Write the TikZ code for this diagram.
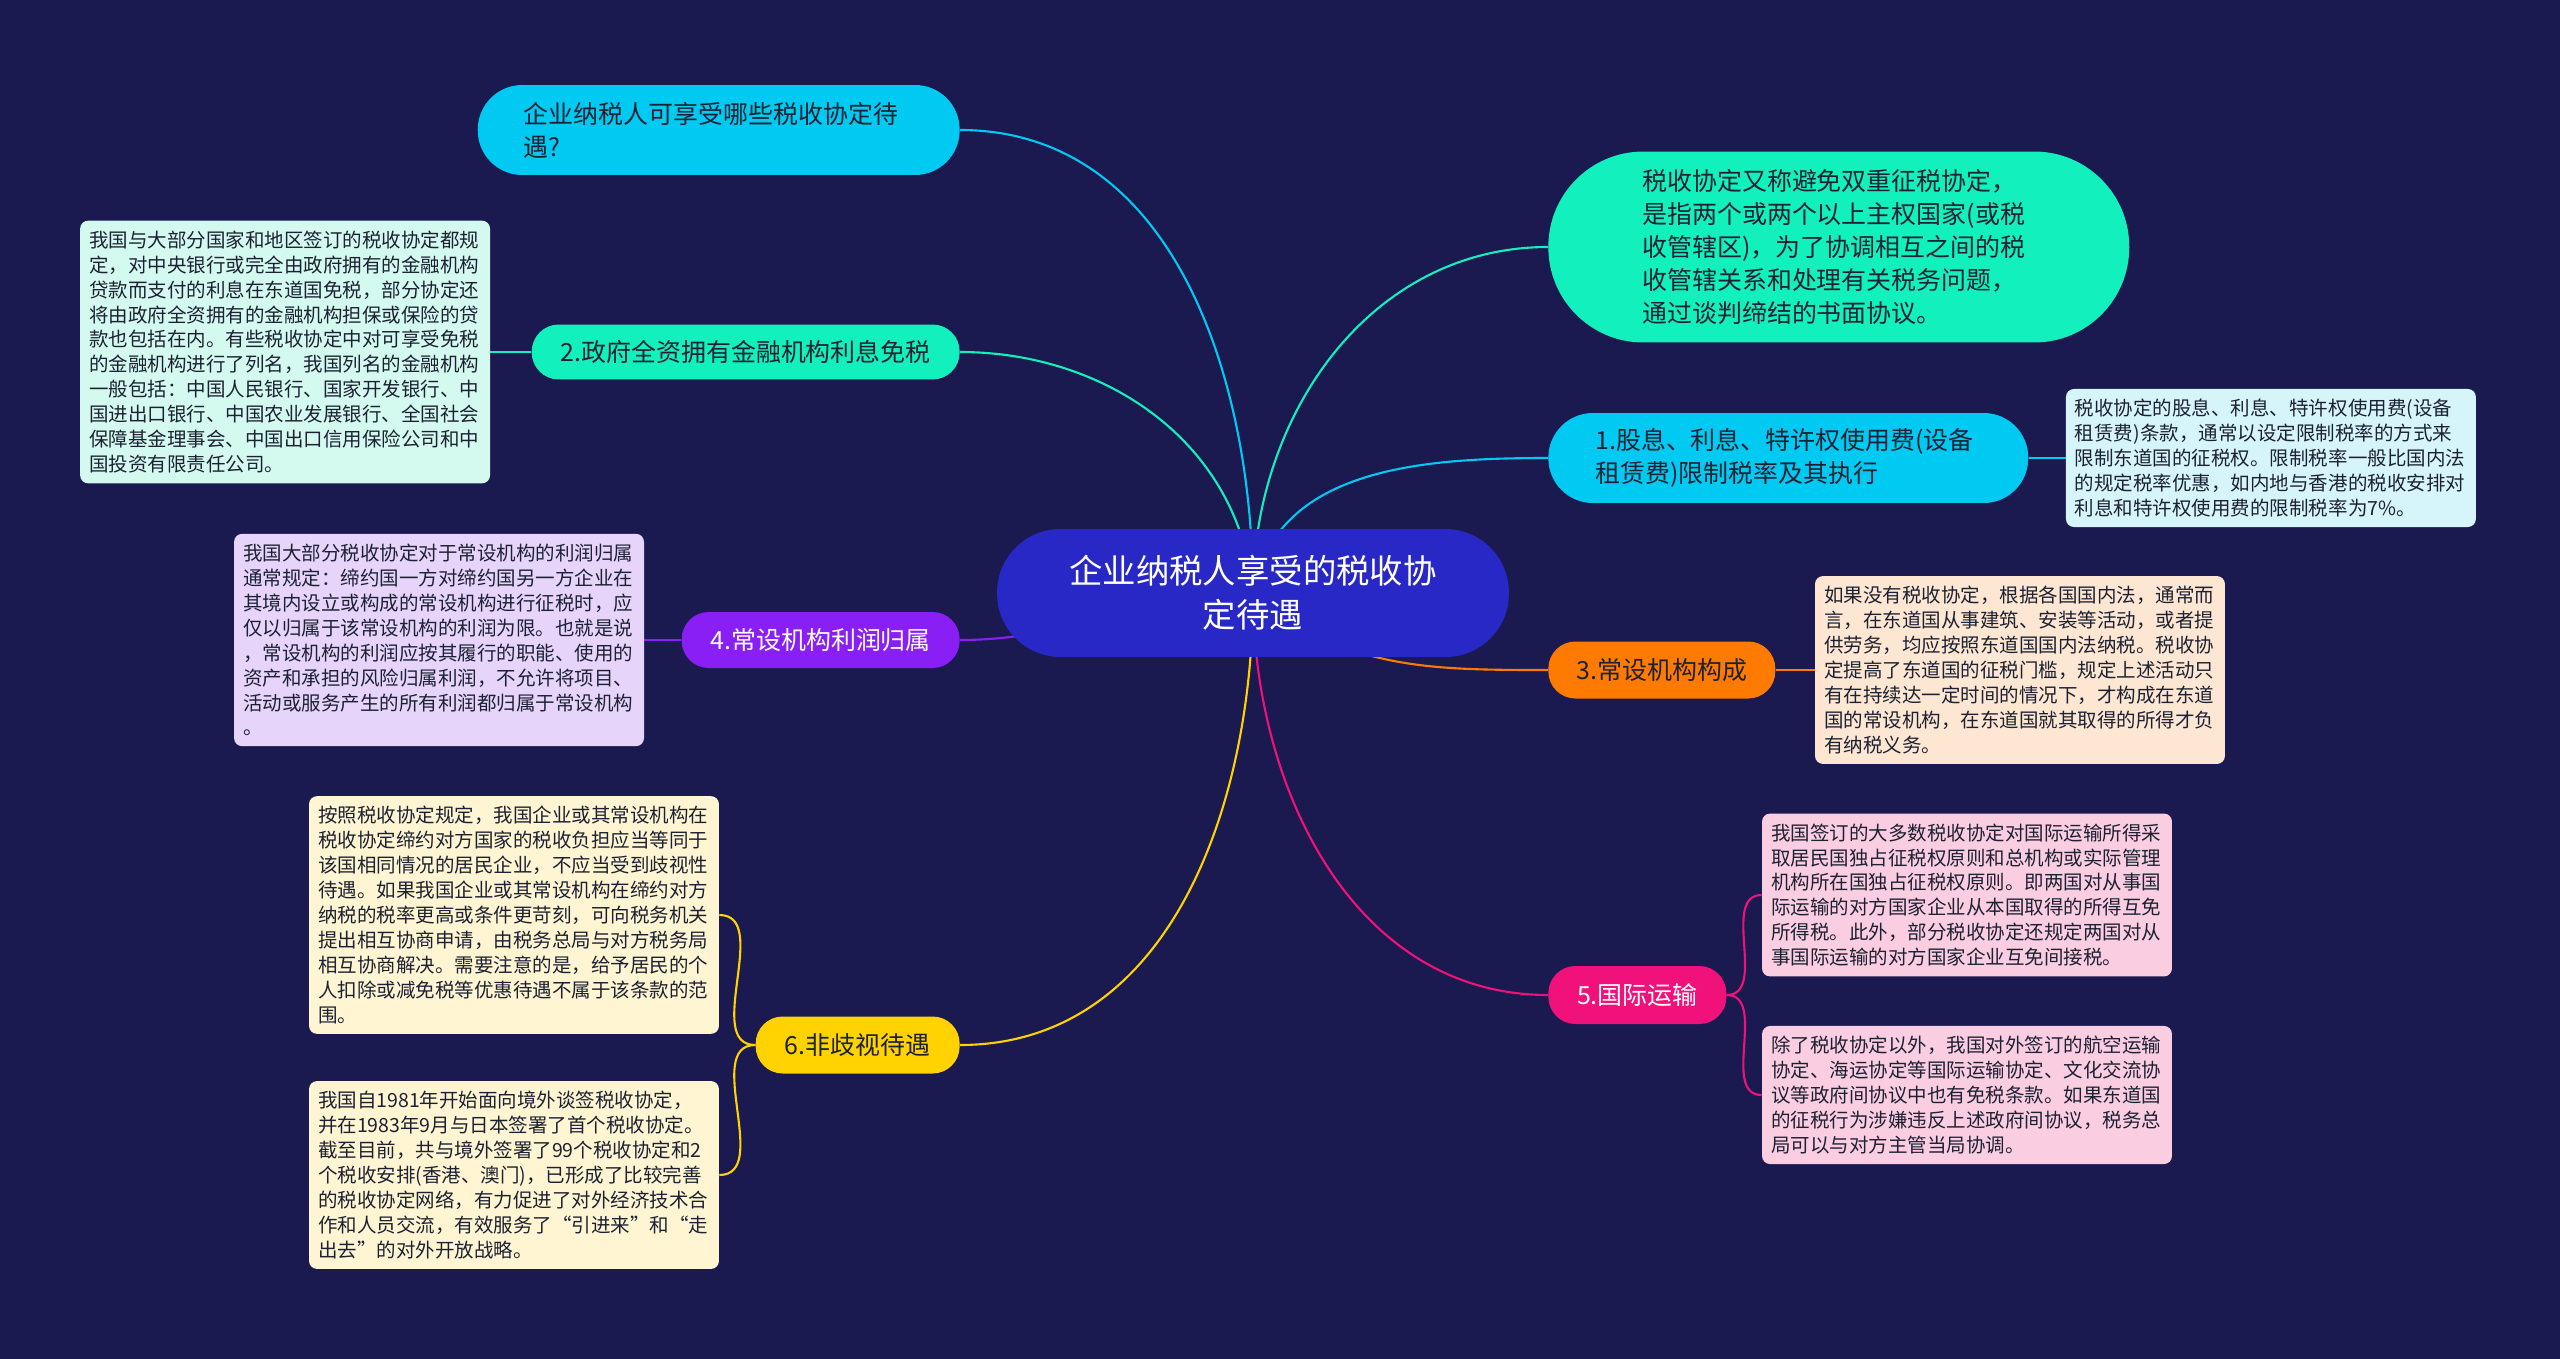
\documentclass[tikz,border=0pt]{standalone}
\usepackage{fontspec}
\setmainfont{Noto Sans CJK SC}
\usetikzlibrary{positioning}
\pgfdeclarelayer{back}
\pgfsetlayers{back,main}
\definecolor{night}{HTML}{1A1A50}
\definecolor{royal}{HTML}{2828C6}
\definecolor{sky}{HTML}{00C9F2}
\definecolor{mint}{HTML}{12F0BE}
\definecolor{amber}{HTML}{FF7A00}
\definecolor{grape}{HTML}{8A1FF5}
\definecolor{rose}{HTML}{F0127A}
\definecolor{gold}{HTML}{FFD200}
\definecolor{skywash}{HTML}{D6F5FB}
\definecolor{mintwash}{HTML}{D4FAEF}
\definecolor{amberwash}{HTML}{FDE6D2}
\definecolor{grapewash}{HTML}{E6D4FB}
\definecolor{rosewash}{HTML}{FBCDE1}
\definecolor{goldwash}{HTML}{FFF5D2}
\definecolor{ink}{HTML}{1C2233}

\begin{document}
\begin{tikzpicture}[x=0.02cm,y=0.02cm,
  every node/.style={text=ink},
  branch/.style={fill=#1,rounded corners=0.54cm,minimum height=1.12cm,align=center,font=\fontsize{14.2}{18.8}\selectfont},
  leaf/.style={fill=#1,rounded corners=0.16cm,inner xsep=0.18cm,inner ysep=0.2cm,text width=7.84cm,align=left,font=\fontsize{11.1}{14.2}\selectfont},
  link/.style={draw=#1,line width=1.2pt}]
% centre and main branches
\node[fill=royal,text=white,rounded corners=1.27cm,minimum width=10.24cm,minimum height=2.56cm,align=center,font=\fontsize{19}{25}\selectfont] (root) at (1253,-593) {企业纳税人享受的税收协\\定待遇};
\node[branch=sky,anchor=east,rounded corners=0.89cm,minimum height=1.8cm,inner xsep=0.92cm,text width=7.8cm,align=left] (ask) at (960,-130) {企业纳税人可享受哪些税收协定待\\遇?};
\node[branch=mint,anchor=west,rounded corners=1.9cm,minimum height=3.82cm,inner xsep=1.88cm,text width=7.86cm,align=left] (def) at (1548,-247) {税收协定又称避免双重征税协定，\\是指两个或两个以上主权国家(或税\\收管辖区)，为了协调相互之间的税\\收管辖关系和处理有关税务问题，\\通过谈判缔结的书面协议。};
\node[branch=sky,anchor=west,rounded corners=0.89cm,minimum height=1.8cm,inner xsep=0.94cm,text width=7.72cm,align=left] (b1) at (1548,-458) {1.股息、利息、特许权使用费(设备\\租赁费)限制税率及其执行};
\node[branch=mint,anchor=east,minimum width=8.56cm,minimum height=1.1cm] (b2) at (960,-352) {2.政府全资拥有金融机构利息免税};
\node[branch=amber,anchor=west,minimum width=4.54cm,minimum height=1.14cm] (b3) at (1548,-670) {3.常设机构构成};
\node[branch=grape,anchor=west,text=white,anchor=east,minimum width=5.56cm] (b4) at (960,-640) {4.常设机构利润归属};
\node[branch=rose,anchor=west,text=white,minimum width=3.56cm,minimum height=1.16cm] (b5) at (1548,-995) {5.国际运输};
\node[branch=gold,anchor=east,minimum width=4.08cm,minimum height=1.14cm] (b6) at (960,-1045) {6.非歧视待遇};
% leaves
\node[leaf=skywash,right=0.74cm of b1] (l1) {税收协定的股息、利息、特许权使用费(设备\\租赁费)条款，通常以设定限制税率的方式来\\限制东道国的征税权。限制税率一般比国内法\\的规定税率优惠，如内地与香港的税收安排对\\利息和特许权使用费的限制税率为7\%。};
\node[leaf=mintwash,left=0.82cm of b2] (l2) {我国与大部分国家和地区签订的税收协定都规\\定，对中央银行或完全由政府拥有的金融机构\\贷款而支付的利息在东道国免税，部分协定还\\将由政府全资拥有的金融机构担保或保险的贷\\款也包括在内。有些税收协定中对可享受免税\\的金融机构进行了列名，我国列名的金融机构\\一般包括：中国人民银行、国家开发银行、中\\国进出口银行、中国农业发展银行、全国社会\\保障基金理事会、中国出口信用保险公司和中\\国投资有限责任公司。};
\node[leaf=amberwash,right=0.78cm of b3] (l3) {如果没有税收协定，根据各国国内法，通常而\\言，在东道国从事建筑、安装等活动，或者提\\供劳务，均应按照东道国国内法纳税。税收协\\定提高了东道国的征税门槛，规定上述活动只\\有在持续达一定时间的情况下，才构成在东道\\国的常设机构，在东道国就其取得的所得才负\\有纳税义务。};
\node[leaf=grapewash,left=0.74cm of b4] (l4) {我国大部分税收协定对于常设机构的利润归属\\通常规定：缔约国一方对缔约国另一方企业在\\其境内设立或构成的常设机构进行征税时，应\\仅以归属于该常设机构的利润为限。也就是说\\，常设机构的利润应按其履行的职能、使用的\\资产和承担的风险归属利润，不允许将项目、\\活动或服务产生的所有利润都归属于常设机构\\。};
\node[leaf=rosewash] (l5a) at (1967,-895) {我国签订的大多数税收协定对国际运输所得采\\取居民国独占征税权原则和总机构或实际管理\\机构所在国独占征税权原则。即两国对从事国\\际运输的对方国家企业从本国取得的所得互免\\所得税。此外，部分税收协定还规定两国对从\\事国际运输的对方国家企业互免间接税。};
\node[leaf=rosewash] (l5b) at (1967,-1095) {除了税收协定以外，我国对外签订的航空运输\\协定、海运协定等国际运输协定、文化交流协\\议等政府间协议中也有免税条款。如果东道国\\的征税行为涉嫌违反上述政府间协议，税务总\\局可以与对方主管当局协调。};
\node[leaf=goldwash] (l6a) at (514,-915) {按照税收协定规定，我国企业或其常设机构在\\税收协定缔约对方国家的税收负担应当等同于\\该国相同情况的居民企业，不应当受到歧视性\\待遇。如果我国企业或其常设机构在缔约对方\\纳税的税率更高或条件更苛刻，可向税务机关\\提出相互协商申请，由税务总局与对方税务局\\相互协商解决。需要注意的是，给予居民的个\\人扣除或减免税等优惠待遇不属于该条款的范\\围。};
\node[leaf=goldwash] (l6b) at (514,-1175) {我国自1981年开始面向境外谈签税收协定，\\并在1983年9月与日本签署了首个税收协定。\\截至目前，共与境外签署了99个税收协定和2\\个税收安排(香港、澳门)，已形成了比较完善\\的税收协定网络，有力促进了对外经济技术合\\作和人员交流，有效服务了“引进来”和“走\\出去”的对外开放战略。};
% connectors behind the nodes
\begin{pgfonlayer}{back}
\fill[night] (0,0) rectangle (2560,-1359);
\draw[link=sky] (root.center) to[out=90,in=0] (ask.east);
\draw[link=mint] (root.center) to[out=90,in=180] (def.west);
\draw[link=sky] (root.center) to[out=80,in=180] (b1.west);
\draw[link=mint] (root.center) to[out=95,in=0] (b2.east);
\draw[link=amber] (root.center) to[out=-40,in=180] (b3.west);
\draw[link=grape] (root.center) to[out=180,in=0] (b4.east);
\draw[link=rose] (root.center) to[out=-90,in=180] (b5.west);
\draw[link=gold] (root.center) to[out=-90,in=0] (b6.east);
\draw[link=sky] (b1) -- (l1);
\draw[link=mint] (b2) -- (l2);
\draw[link=amber] (b3) -- (l3);
\draw[link=grape] (b4) -- (l4);
\draw[link=rose] (b5.east) to[out=0,in=180] (l5a.west);
\draw[link=rose] (b5.east) to[out=0,in=180] (l5b.west);
\draw[link=gold] (b6.west) to[out=180,in=0] (l6a.east);
\draw[link=gold] (b6.west) to[out=180,in=0] (l6b.east);
\end{pgfonlayer}
\end{tikzpicture}
\end{document}
